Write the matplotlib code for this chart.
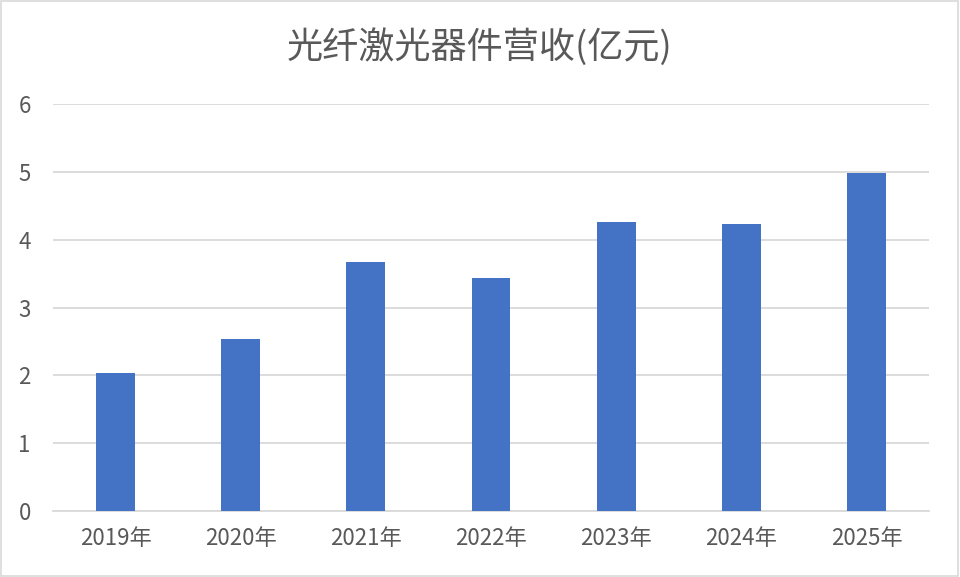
import matplotlib
matplotlib.use("Agg")
import matplotlib.pyplot as plt
from matplotlib.patches import Rectangle

plt.rcParams['font.family'] = ['Noto Sans CJK SC', 'DejaVu Sans']

years = ["2019年", "2020年", "2021年", "2022年", "2023年", "2024年", "2025年"]
revenue = [2.03, 2.53, 3.67, 3.43, 4.26, 4.24, 4.98]

fig = plt.figure(figsize=(9.6, 5.77), dpi=100)
ax = fig.add_axes([53/960, 1-510.7/577, (929-53)/960, (510.7-104.3)/577])

x = range(len(years))
ax.bar(x, revenue, width=0.31, color="#4472c4", zorder=3)

ax.set_ylim(0, 6)
ax.set_xlim(-0.5, len(years) - 0.5)
ax.set_yticks(range(0, 7))
ax.set_xticks(list(x))
ax.set_xticklabels(years)
ax.yaxis.grid(True, color="#d9d9d9", linewidth=1.3, zorder=0)
ax.tick_params(axis='both', length=0, labelsize=16, colors="#595959")
ax.tick_params(axis='x', pad=12)
ax.tick_params(axis='y', pad=16)
for s in ["top", "right", "left"]:
    ax.spines[s].set_visible(False)
ax.spines["bottom"].set_color("#d9d9d9")
ax.spines["bottom"].set_linewidth(1.3)

fig.text(0.5, 1-47/577, "光纤激光器件营收(亿元)", ha="center", va="center",
         fontsize=26, color="#595959")

fig.patches.append(Rectangle((0.001, 0.001), 0.997, 0.997, transform=fig.transFigure,
                             fill=False, edgecolor="#d9d9d9", linewidth=1.2))

fig.savefig("out.png", dpi=100)
